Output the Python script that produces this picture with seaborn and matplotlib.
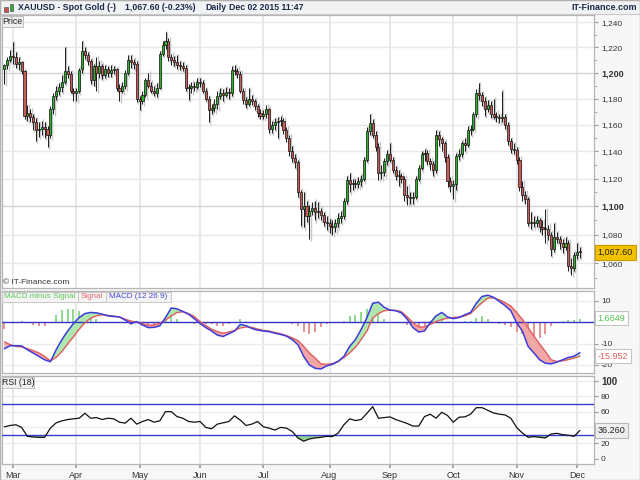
import numpy as np
import pandas as pd
import matplotlib
matplotlib.use("Agg")
import matplotlib.pyplot as plt
import matplotlib.transforms as mtrans
from matplotlib.patches import Rectangle
from matplotlib.ticker import NullFormatter
import seaborn as sns

# ---------------- data ----------------
START, END = "2015-02-25", "2015-12-02"

opens = [1203,1206,1210,1213,1212,1207,1208,1201,1167,1169,
         1166,1162,1156,1157,1158,1157,1152,1172,1182,1186,
         1189,1193,1201,1199,1186,1184,1186,1203,1217,1214,
         1209,1194,1205,1200,1205,1198,1203,1200,1202,1203,
         1188,1186,1190,1200,1210,1208,1207,1180,1178,1183,
         1194,1190,1186,1184,1188,1215,1222,1225,1212,1210,
         1208,1206,1205,1204,1188,1188,1190,1189,1193,1192,
         1186,1180,1171,1173,1176,1182,1184,1183,1185,1184,
         1202,1201,1199,1186,1179,1176,1180,1178,1174,1169,
         1167,1168,1172,1157,1160,1162,1163,1163,1156,1150,
         1140,1135,1132,1110,1098,1100,1093,1097,1099,1096,
         1097,1094,1089,1088,1086,1085,1088,1092,1093,1104,
         1119,1116,1117,1116,1118,1120,1134,1155,1161,1152,
         1143,1124,1125,1133,1138,1134,1126,1122,1122,1120,
         1108,1107,1106,1107,1120,1128,1138,1139,1133,1131,
         1126,1152,1149,1146,1136,1118,1115,1116,1137,1138,
         1146,1145,1156,1157,1168,1184,1183,1178,1172,1175,
         1168,1166,1166,1165,1166,1160,1148,1142,1141,1134,
         1114,1108,1105,1088,1089,1088,1090,1085,1084,1084,
         1080,1070,1078,1077,1074,1071,1074,1058,1057,1066,1068]

highs = [1207,1212,1218,1224,1216,1212,1209,1202,1175,1172,
         1168,1165,1162,1163,1162,1159,1174,1184,1190,1192,
         1198,1220,1205,1201,1188,1188,1204,1225,1220,1216,
         1211,1207,1212,1209,1207,1206,1205,1206,1205,1204,
         1191,1193,1202,1214,1214,1211,1209,1182,1186,1196,
         1200,1193,1190,1192,1217,1225,1232,1227,1215,1213,
         1214,1209,1208,1206,1191,1193,1193,1196,1196,1194,
         1188,1182,1176,1180,1186,1188,1187,1189,1188,1205,
         1206,1204,1201,1188,1181,1188,1183,1180,1176,1172,
         1171,1175,1173,1163,1165,1166,1167,1165,1158,1152,
         1144,1138,1134,1112,1110,1104,1101,1103,1104,1103,
         1099,1096,1093,1091,1090,1091,1095,1097,1106,1122,
         1124,1120,1120,1121,1123,1136,1158,1168,1164,1155,
         1146,1130,1135,1141,1146,1136,1129,1126,1124,1122,
         1115,1110,1110,1122,1130,1140,1142,1141,1135,1133,
         1156,1155,1151,1148,1138,1121,1119,1139,1142,1148,
         1150,1159,1160,1170,1187,1192,1185,1181,1179,1178,
         1180,1170,1168,1186,1168,1162,1150,1146,1143,1136,
         1118,1111,1107,1096,1093,1093,1092,1090,1098,1087,
         1082,1088,1082,1079,1077,1078,1076,1064,1068,1074,1071]

lows = [1191,1203,1208,1207,1204,1202,1199,1164,1163,1162,
        1156,1148,1151,1152,1150,1143,1150,1168,1179,1183,
        1185,1191,1196,1184,1178,1178,1184,1200,1211,1206,
        1191,1190,1186,1196,1195,1196,1197,1197,1199,1186,
        1178,1184,1187,1198,1204,1203,1177,1171,1176,1181,
        1188,1184,1182,1181,1187,1213,1219,1209,1206,1205,
        1203,1202,1201,1186,1179,1184,1186,1187,1189,1184,
        1178,1162,1168,1170,1172,1180,1178,1181,1180,1182,
        1198,1196,1184,1176,1173,1174,1175,1171,1166,1164,
        1164,1165,1154,1154,1156,1150,1159,1153,1147,1137,
        1132,1128,1107,1086,1085,1089,1077,1094,1090,1092,
        1090,1086,1083,1081,1080,1082,1085,1088,1091,1102,
        1110,1112,1113,1113,1115,1118,1132,1152,1150,1140,
        1119,1120,1122,1130,1132,1124,1119,1115,1117,1104,
        1101,1102,1102,1105,1118,1126,1133,1130,1126,1122,
        1124,1144,1140,1132,1114,1110,1105,1112,1134,1136,
        1140,1143,1152,1155,1166,1179,1174,1167,1170,1165,
        1164,1162,1161,1162,1157,1145,1139,1138,1131,1111,
        1104,1102,1086,1084,1085,1085,1082,1080,1074,1076,
        1065,1068,1074,1070,1067,1069,1055,1052,1055,1063,1064]

closes = [1206,1210,1213,1212,1207,1208,1201,1167,1169,1166,
          1162,1156,1157,1158,1157,1152,1172,1182,1186,1189,
          1193,1201,1199,1186,1184,1186,1202,1217,1214,1209,
          1194,1205,1200,1205,1198,1203,1200,1202,1203,1188,
          1186,1190,1200,1210,1208,1207,1180,1178,1183,1194,
          1190,1186,1184,1188,1215,1222,1225,1212,1210,1208,
          1206,1205,1204,1188,1188,1190,1189,1193,1192,1186,
          1180,1171,1173,1176,1182,1184,1183,1185,1184,1202,
          1201,1199,1186,1179,1176,1180,1178,1174,1169,1167,
          1168,1172,1157,1160,1162,1163,1163,1156,1150,1140,
          1135,1132,1110,1098,1100,1093,1097,1099,1096,1097,
          1094,1089,1088,1086,1085,1088,1092,1093,1104,1119,
          1116,1117,1116,1118,1120,1134,1155,1161,1152,1143,
          1124,1125,1133,1138,1134,1126,1122,1122,1120,1108,
          1107,1106,1107,1120,1128,1138,1139,1133,1131,1126,
          1152,1149,1146,1136,1118,1115,1116,1137,1138,1146,
          1145,1156,1157,1168,1184,1183,1178,1172,1175,1168,
          1166,1166,1165,1166,1160,1148,1142,1141,1134,1114,
          1108,1105,1088,1089,1088,1090,1085,1084,1084,1080,
          1070,1078,1077,1074,1071,1074,1058,1057,1066,1068,1067.6]

# indicator readings, one every second session
IND_STEP = 2
macd = [-12.4,-11.0,-11.0,-11.1,-12.9,-14.4,-16.0,-17.6,-18.5,-12.9,
        -8.1,-4.1,-0.6,2.2,4.1,4.6,4.4,3.8,3.0,2.7,
        2.5,1.0,-0.6,0.3,-1.3,-2.5,-2.4,-1.7,2.2,6.7,
        6.3,5.1,3.8,1.7,-0.6,-2.5,-4.1,-6.0,-6.7,-5.4,
        -4.1,-1.0,-1.6,-2.9,-3.7,-4.1,-4.4,-5.1,-5.7,-6.5,
        -8.1,-10.5,-16.0,-20.0,-21.6,-21.9,-20.5,-19.7,-18.4,-16.0,
        -11.3,-8.1,-3.3,2.2,8.9,9.4,7.0,5.7,5.4,4.4,
        1.4,-2.5,-4.6,-4.1,-0.2,3.0,4.6,2.5,1.7,2.2,
        3.5,4.6,8.9,12.1,12.7,11.7,9.8,7.8,5.4,-0.2,
        -4.1,-11.3,-14.4,-17.6,-19.2,-19.5,-18.7,-17.6,-16.5,-15.9,
        -14.287]
signal = [-9.2,-10.5,-11.3,-11.6,-12.4,-13.3,-14.4,-16.0,-18.1,-16.5,
          -13.7,-10.2,-6.8,-3.3,-0.2,1.9,3.0,3.5,3.2,2.9,
          2.5,1.4,0.6,0.0,-0.6,-1.4,-1.3,-0.5,1.0,3.0,
          4.6,4.9,4.1,2.7,0.3,-1.6,-3.2,-4.4,-5.1,-4.6,
          -3.8,-2.7,-2.2,-2.4,-3.2,-3.8,-4.1,-4.8,-5.4,-6.2,
          -7.3,-8.6,-11.3,-14.4,-16.8,-19.5,-19.7,-19.4,-18.3,-16.5,
          -14.4,-11.7,-8.1,-4.1,2.0,4.1,5.4,5.7,5.6,4.9,
          2.5,-0.2,-2.2,-2.2,-1.0,0.3,1.3,1.9,2.2,2.5,
          3.0,4.1,6.7,9.2,11.3,11.4,10.5,9.2,7.6,4.6,
          1.4,-2.5,-6.5,-10.2,-13.7,-17.6,-18.4,-18.1,-17.5,-16.8,
          -15.952]
rsi = [40.9,42.6,43.5,40.1,28.7,27.8,27.4,27.4,39.2,46.0,
       48.5,50.2,51.1,51.9,58.2,51.9,52.7,50.2,51.9,51.1,
       46.8,45.6,51.9,44.3,47.7,50.2,46.8,48.5,60.3,60.3,
       54.0,51.9,47.7,46.8,47.7,40.1,38.4,44.3,46.0,47.7,
       54.9,49.4,42.6,44.3,47.7,40.9,39.2,36.7,40.1,39.2,
       35.0,26.6,22.4,25.3,26.6,27.4,28.7,28.3,32.9,43.5,
       51.1,48.9,50.2,58.2,66.7,51.9,52.7,53.6,50.2,47.7,
       45.1,41.8,41.8,54.0,57.0,51.9,59.5,55.3,46.8,53.2,
       53.6,57.0,65.4,65.4,62.0,58.6,57.0,56.1,51.9,40.1,
       32.9,27.4,28.3,27.4,26.6,31.6,32.5,30.8,30.0,28.7,
       36.26]

month_labels = ["Mar", "Apr", "May", "Jun", "Jul", "Aug", "Sep", "Oct", "Nov", "Dec"]
price_ticks = [1060, 1080, 1100, 1120, 1140, 1160, 1180, 1200, 1220, 1240]
price_minor = [1050, 1070, 1090, 1110, 1130, 1150, 1170, 1190, 1210, 1230]
macd_ticks = [-20, -10, 0, 10]
macd_tick_labels = ["-20", "-10", "", "10"]      # "0" sits under the value tag
rsi_ticks = [0, 20, 40, 60, 80, 100]
rsi_tick_labels = ["0", "20", "", "60", "80", "100"]  # "40" sits under the value tag

title_parts = ["XAUUSD - Spot Gold (-)", "1,067.60 (-0.23%)", "Daily", "Dec 02 2015 11:47"]
brand = "IT-Finance.com"
last_price = 1067.60
macd_hist_label = "1.6649"
signal_label = "-15.952"
rsi_label = "36.260"
legend_parts = ["MACD minus Signal", "Signal", "MACD (12 26 9)"]

# ---------------- figure ----------------
sns.set_theme(style="white")
plt.rcParams["font.family"] = ["Liberation Sans", "DejaVu Sans"]

W, H = 640, 480
fig = plt.figure(figsize=(6.4, 4.8), dpi=100, facecolor="#f7f7f7")


def rect(x0, y0, x1, y1):
    return [x0 / W, 1 - y1 / H, (x1 - x0) / W, (y1 - y0) / H]


def fx(px):
    return px / W


def fy(py):
    return 1 - py / H


def fig_box(x0, y0, x1, y1, fc, ec, lw=0.7, z=5):
    fig.patches.append(Rectangle((fx(x0), fy(y1)), (x1 - x0) / W, (y1 - y0) / H,
                                 transform=fig.transFigure, fc=fc, ec=ec, lw=lw, zorder=z))


axp = fig.add_axes(rect(2, 15, 594, 288))
axm = fig.add_axes(rect(2, 290.5, 594, 373))
axr = fig.add_axes(rect(2, 376, 594, 464))

dates = pd.bdate_range(START, END)
n = len(dates)
x = np.arange(n)
o, h, l, c = (np.asarray(v, dtype=float) for v in (opens, highs, lows, closes))
month_idx = [int(np.argmax((dates.month == m) & (dates.year == 2015))) for m in range(3, 13)]

XL = (-0.82, 204.9)
for ax in (axp, axm, axr):
    ax.set_facecolor("white")
    ax.set_xlim(*XL)
    for s in ax.spines.values():
        s.set_color("#b5b5b5")
        s.set_linewidth(0.9)
    for mi in month_idx:
        ax.axvline(mi, color="#e6e6e6", lw=1.3, zorder=0)
    ax.yaxis.tick_right()
    ax.tick_params(axis="y", which="both", direction="out", color="#9a9a9a",
                   labelsize=6, labelcolor="#333333", pad=2, right=True, left=False)
    ax.tick_params(axis="y", which="major", length=3, width=0.8)
    ax.tick_params(axis="y", which="minor", length=2, width=0.6)

# ---- price panel ----
axp.set_yscale("log")
axp.set_ylim(1043.1, 1245.9)
axp.set_yticks(price_ticks, labels=[f"{v:,}" for v in price_ticks])
axp.set_yticks(price_minor, minor=True)
axp.yaxis.set_minor_formatter(NullFormatter())
for lbl, v in zip(axp.get_yticklabels(), price_ticks):
    if v % 100 == 0:
        lbl.set_fontweight("bold")
        lbl.set_fontsize(6.5)
for v in price_ticks:
    axp.axhline(v, color="#d2d2d2" if v % 100 == 0 else "#e8e8e8", lw=1.0, zorder=0)
axp.set_xticks([])

up = c >= o
body_lo = np.minimum(o, c)
body_h = np.maximum(np.abs(c - o), 0.7)
axp.vlines(x + 0.45, l - 1.5, h + 1.0, color="#c6c6c6", lw=1.0, zorder=2)
axp.vlines(x, l, h, color="#1a1a1a", lw=0.7, zorder=3)
axp.bar(x[up], body_h[up], bottom=body_lo[up], width=0.72, color="#2db42d",
        edgecolor="#111111", linewidth=0.5, zorder=4)
axp.bar(x[~up], body_h[~up], bottom=body_lo[~up], width=0.72, color="#cc5a58",
        edgecolor="#111111", linewidth=0.5, zorder=4)

tr_p = mtrans.blended_transform_factory(axp.transAxes, axp.transData)
axp.text(1.006, last_price, "1,067.60", transform=tr_p, va="center", ha="left",
         fontsize=6.5, color="#222222",
         bbox=dict(boxstyle="square,pad=0.3", fc="#f2c200", ec="#c89a00", lw=0.8), zorder=10,
         clip_on=False)

# ---- MACD panel ----
xi = np.arange(0, n, IND_STEP)
m_arr = np.asarray(macd)
s_arr = np.asarray(signal)
hist = m_arr - s_arr
axm.set_ylim(-23.8, 14.9)
axm.set_yticks(macd_ticks, labels=macd_tick_labels)
for v in (10, -10, -20):
    axm.axhline(v, color="#ececec", lw=1.0, zorder=0)
axm.vlines(xi[hist >= 0], 0, hist[hist >= 0], color="#6ccf6c", lw=1.1, zorder=1)
axm.vlines(xi[hist < 0], 0, hist[hist < 0], color="#e27272", lw=1.1, zorder=1)
axm.fill_between(xi, m_arr, s_arr, where=m_arr >= s_arr, interpolate=True,
                 color="#aee8ae", lw=0, zorder=2)
axm.fill_between(xi, m_arr, s_arr, where=m_arr < s_arr, interpolate=True,
                 color="#f2a7a7", lw=0, zorder=2)
axm.axhline(0, color="#3535c8", lw=1.0, zorder=3)
sns.lineplot(x=xi, y=s_arr, ax=axm, color="#e05c5c", lw=1.0, zorder=4)
sns.lineplot(x=xi, y=m_arr, ax=axm, color="#3c3cdc", lw=1.1, zorder=5)
axm.set_xticks([])
axm.set_xlim(*XL)
tr_m = mtrans.blended_transform_factory(axm.transAxes, axm.transData)
axm.text(1.006, hist[-1] + 0.2, macd_hist_label, transform=tr_m, va="center", ha="left",
         fontsize=6.5, color="#55c455",
         bbox=dict(boxstyle="square,pad=0.3", fc="white", ec="#c4c4c4", lw=0.8), zorder=10,
         clip_on=False)
axm.text(1.006, s_arr[-1], signal_label, transform=tr_m, va="center", ha="left",
         fontsize=6.5, color="#e06060",
         bbox=dict(boxstyle="square,pad=0.3", fc="white", ec="#c4c4c4", lw=0.8), zorder=10,
         clip_on=False)

# ---- RSI panel ----
r_arr = np.asarray(rsi)
axr.set_ylim(-6.8, 106)
axr.set_yticks(rsi_ticks, labels=rsi_tick_labels)
for lbl, v in zip(axr.get_yticklabels(), rsi_ticks):
    if v == 100:
        lbl.set_fontweight("bold")
        lbl.set_fontsize(7)
for v in (20, 40, 60, 80, 100):
    axr.axhline(v, color="#ececec", lw=1.0, zorder=0)
axr.fill_between(xi, r_arr, 30, where=r_arr < 30, interpolate=True, color="#8fcf8f", lw=0, zorder=2)
axr.axhline(70, color="#3a3ad0", lw=1.0, zorder=3)
axr.axhline(30, color="#3a3ad0", lw=1.0, zorder=3)
sns.lineplot(x=xi, y=r_arr, ax=axr, color="#111111", lw=0.9, zorder=4)
axr.set_xlim(*XL)
axr.set_xticks(month_idx, labels=month_labels)
axr.tick_params(axis="x", direction="out", length=3, color="#9a9a9a", labelsize=6.5,
                labelcolor="#333333", pad=2, bottom=True)
tr_r = mtrans.blended_transform_factory(axr.transAxes, axr.transData)
axr.text(1.006, r_arr[-1], rsi_label, transform=tr_r, va="center", ha="left",
         fontsize=6.5, color="#222222",
         bbox=dict(boxstyle="square,pad=0.3", fc="#eeeeee", ec="#b8b8b8", lw=0.8), zorder=10,
         clip_on=False)
for ax in (axp, axm, axr):
    ax.set_xlabel("")
    ax.set_ylabel("")

# ---- header bar & labels ----
fig_box(0, 0, 640, 14, "#f1f2f4", "#c8c8c8", lw=0.8, z=0)
fig_box(4, 7, 7.5, 12, "#d05050", "#555555", lw=0.5)
fig_box(9.5, 4, 13, 11, "#30b030", "#555555", lw=0.5)
hdr = dict(fontsize=6.3, fontweight="bold", color="#1b2a48", va="center", ha="left")
fig.text(fx(18), fy(7.5), title_parts[0], **hdr)
fig.text(fx(125), fy(7.5), title_parts[1], **hdr)
fig.text(fx(205), fy(7.5), title_parts[2], **hdr)
fig.text(fx(229), fy(7.5), title_parts[3], **hdr)
fig.text(fx(637), fy(7.5), brand, fontsize=6.5, fontweight="bold", color="#1b2a48",
         va="center", ha="right")

fig_box(2, 15.5, 23, 27, "#f0f0f0", "#c0c0c0")
fig.text(fx(12.5), fy(21.5), "Price", fontsize=6.3, color="#222222", va="center", ha="center", zorder=6)
fig.text(fx(3), fy(283), "\u00a9 IT-Finance.com", fontsize=6, color="#333333", va="center", ha="left")

leg_x = [(2, 78), (78, 106), (106, 171)]
leg_c = ["#5cc85c", "#e46a6a", "#4646d6"]
for (x0, x1), txt, col in zip(leg_x, legend_parts, leg_c):
    fig_box(x0, 291.5, x1, 302, "#f4f4f4", "#c8c8c8")
    fig.text(fx((x0 + x1) / 2), fy(297), txt, fontsize=5.8, color=col, va="center",
             ha="center", zorder=6)

fig_box(2, 377, 34, 388, "#f0f0f0", "#c0c0c0")
fig.text(fx(18), fy(382.5), "RSI (18)", fontsize=6.3, color="#222222", va="center", ha="center", zorder=6)

fig.patches.append(Rectangle((0, 0), 1, 1, transform=fig.transFigure, fill=False,
                             ec="#b0b0b0", lw=1.0))

fig.savefig("out.png", dpi=100, facecolor=fig.get_facecolor())
